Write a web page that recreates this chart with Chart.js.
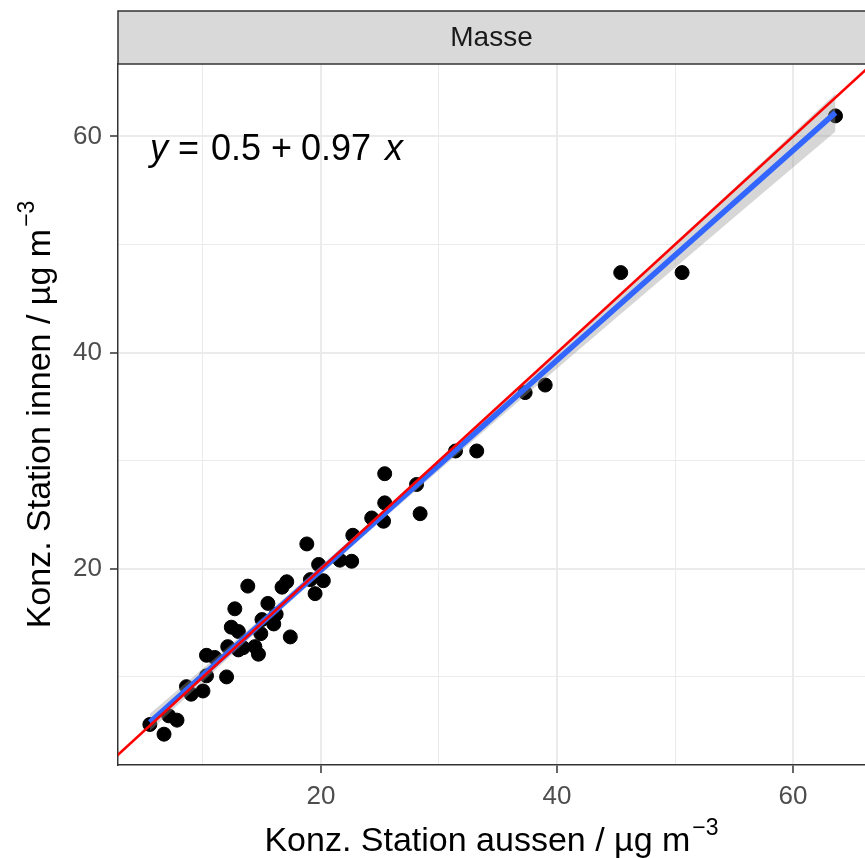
<!DOCTYPE html>
<html>
<head>
<meta charset="utf-8">
<script src="https://cdn.jsdelivr.net/npm/chart.js@4/dist/chart.umd.min.js"></script>
<style>
  html, body { margin: 0; padding: 0; background: #fff; }
  #wrap { width: 865px; height: 858px; }
</style>
</head>
<body>
<div id="wrap"><canvas id="chart" width="865" height="858"></canvas></div>
<script>
// measured points (aussen / innen)
const pointX = [5.5, 6.7, 7.8, 7.1, 8.6, 9.0, 10.0, 10.3, 10.3, 11.0, 12.0, 12.1, 13.0, 12.4, 13.0,
  12.7, 13.8, 13.4, 14.4, 14.7, 15.0, 14.9, 15.5, 16.0, 16.2, 16.7, 17.1, 17.4, 18.8, 19.1,
  19.5, 19.8, 20.2, 21.6, 22.6, 22.7, 24.3, 25.3, 25.4, 25.4, 28.1, 28.4, 31.4, 33.2, 37.3,
  39.0, 45.4, 50.6, 63.6];
const pointY = [5.6, 4.7, 6.0, 6.4, 9.1, 8.4, 8.7, 10.1, 12.0, 11.8, 10.0, 12.8, 12.5, 14.6, 14.2,
  16.3, 18.4, 12.7, 12.8, 12.1, 15.3, 14.0, 16.8, 14.9, 15.8, 18.3, 18.8, 13.7, 22.3, 19.0,
  17.7, 20.4, 18.9, 20.8, 20.7, 23.1, 24.7, 24.4, 26.1, 28.8, 27.8, 25.1, 30.9, 30.9, 36.3,
  37.0, 47.4, 47.4, 61.9];

// regression line y = 0.5 + 0.97 x and its confidence band
const fitX = [5.5, 63.6];
const fitY = [5.8, 62.2];
const bandX = [5.5, 15, 25, 35, 45, 55, 63.6];
const bandLow = [5.0, 14.65, 24.35, 33.85, 43.2, 52.5, 60.45];
const bandHigh = [6.6, 15.45, 25.15, 35.05, 45.1, 55.2, 63.95];

// 1:1 line
const refX = [0, 70];
const refY = [0, 70];

const xTicks = [10, 20, 30, 40, 50, 60];
const yTicks = [10, 20, 30, 40, 50, 60];
const labelledTicks = [20, 40, 60];

const stripLabel = 'Masse';
const xTitle = 'Konz. Station aussen / µg m';
const yTitle = 'Konz. Station innen / µg m';
const unitSup = '\u22123';

const FONT = '"Liberation Sans", Arial, sans-serif';

const pts = (xs, ys) => xs.map((x, i) => ({ x, y: ys[i] }));

const decor = {
  id: 'decor',
  afterDraw(chart) {
    const ctx = chart.ctx;
    const area = chart.chartArea;
    ctx.save();

    // strip
    ctx.fillStyle = '#d9d9d9';
    ctx.fillRect(area.left, 11, chart.width - area.left + 2, area.top - 11);
    ctx.strokeStyle = '#333';
    ctx.lineWidth = 1.5;
    ctx.strokeRect(area.left, 11, chart.width - area.left + 5, area.top - 11);
    ctx.fillStyle = '#1a1a1a';
    ctx.font = '28px ' + FONT;
    ctx.textAlign = 'center';
    ctx.textBaseline = 'middle';
    ctx.fillText(stripLabel, (area.left + area.right) / 2, (11 + area.top) / 2 + 1);

    // equation
    ctx.fillStyle = '#000';
    ctx.textAlign = 'left';
    ctx.textBaseline = 'alphabetic';
    const eqY = 160;
    ctx.font = 'italic 36px ' + FONT;
    ctx.fillText('y', 150, eqY);
    ctx.font = '36px ' + FONT;
    ctx.fillText('=', 178, eqY);
    ctx.fillText('0.5', 211, eqY);
    ctx.fillText('+', 271, eqY);
    ctx.fillText('0.97', 301, eqY);
    ctx.font = 'italic 36px ' + FONT;
    ctx.fillText('x', 385, eqY);

    // axis titles with superscript
    const drawTitle = (text, cx, baseY) => {
      ctx.font = '34px ' + FONT;
      const w1 = ctx.measureText(text).width;
      ctx.font = '23px ' + FONT;
      const w2 = ctx.measureText(unitSup).width;
      const start = cx - (w1 + w2 + 2) / 2;
      ctx.font = '34px ' + FONT;
      ctx.fillText(text, start, baseY);
      ctx.font = '23px ' + FONT;
      ctx.fillText(unitSup, start + w1 + 2, baseY - 16);
    };
    ctx.fillStyle = '#000';
    drawTitle(xTitle, (area.left + area.right) / 2, 851);
    ctx.translate(50, (area.top + area.bottom) / 2);
    ctx.rotate(-Math.PI / 2);
    drawTitle(yTitle, 0, 0);
    ctx.restore();
  }
};

const gridOpts = {
  color: '#ebebeb',
  lineWidth: c => (c.tick && c.tick.value % 20 === 0 ? 2 : 1),
  tickColor: c => (c.tick && c.tick.value % 20 === 0 ? '#333' : 'rgba(0,0,0,0)'),
  tickWidth: 1.5,
  tickLength: 8,
};

new Chart(document.getElementById('chart'), {
  type: 'scatter',
  data: {
    datasets: [
      {
        data: pts(pointX, pointY),
        backgroundColor: '#000',
        borderColor: '#000',
        pointRadius: 7,
        pointHoverRadius: 7,
        order: 4,
      },
      {
        data: pts(bandX, bandLow),
        showLine: true,
        pointRadius: 0,
        borderWidth: 0,
        borderColor: 'rgba(0,0,0,0)',
        order: 3,
      },
      {
        data: pts(bandX, bandHigh),
        showLine: true,
        pointRadius: 0,
        borderWidth: 0,
        borderColor: 'rgba(0,0,0,0)',
        backgroundColor: 'rgba(153,153,153,0.4)',
        fill: '-1',
        order: 3,
      },
      {
        data: pts(fitX, fitY),
        showLine: true,
        pointRadius: 0,
        borderColor: '#3366FF',
        borderWidth: 5.5,
        order: 2,
      },
      {
        data: pts(refX, refY),
        showLine: true,
        pointRadius: 0,
        borderColor: '#FF0000',
        borderWidth: 2.5,
        order: 1,
      },
    ]
  },
  options: {
    responsive: false,
    animation: false,
    events: [],
    layout: { autoPadding: false, padding: { top: 64, right: 0, left: 0, bottom: 0 } },
    plugins: { legend: { display: false }, tooltip: { enabled: false } },
    scales: {
      x: {
        type: 'linear',
        min: 2.8,
        max: 66.1,
        afterBuildTicks: s => { s.ticks = xTicks.map(v => ({ value: v })); },
        afterFit: s => { s.height = 93; },
        grid: gridOpts,
        border: { color: '#333', width: 1.5 },
        ticks: {
          color: '#4d4d4d',
          font: { family: FONT, size: 26 },
          padding: 8,
          maxRotation: 0,
          callback: v => (labelledTicks.includes(v) ? String(v) : ''),
        },
      },
      y: {
        type: 'linear',
        min: 1.85,
        max: 66.7,
        afterBuildTicks: s => { s.ticks = yTicks.map(v => ({ value: v })); },
        afterFit: s => { s.width = 118; },
        grid: gridOpts,
        border: { color: '#333', width: 1.5 },
        ticks: {
          color: '#4d4d4d',
          font: { family: FONT, size: 26 },
          padding: 8,
          callback: v => (labelledTicks.includes(v) ? String(v) : ''),
        },
      },
    },
  },
  plugins: [decor],
});
</script>
</body>
</html>
